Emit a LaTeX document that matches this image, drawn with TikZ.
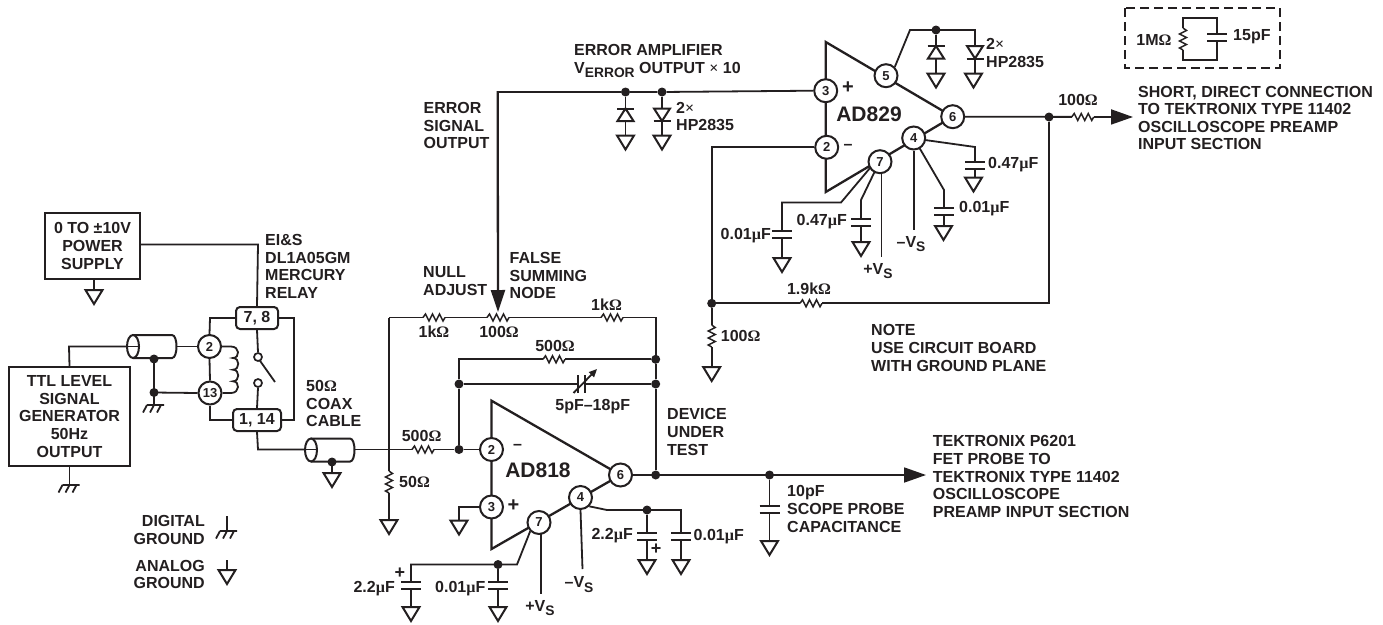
\documentclass[tikz,border=0pt]{standalone}
\usepackage{fontspec}
\setmainfont{Liberation Sans}
\newfontfamily\symf{Liberation Serif}
\usetikzlibrary{arrows.meta}
\definecolor{ink}{HTML}{231F20}
\newcommand\Om{{\symf\bfseries Ω}}
\newcommand\uF{{\symf\bfseries µ}F}
\newcommand\tm{{\symf\bfseries ×}}
\newcommand\lowr[1]{\raisebox{-0.28em}{\fontsize{13.8}{13.8}\selectfont #1}}
\tikzset{
  x=1pt,y=-1pt,
  every path/.style={color=ink},
  wire/.style={draw=ink,line width=1.8pt,line join=miter},
  thickw/.style={draw=ink,line width=2.3pt,line join=miter},
  lbl/.style={inner sep=0pt,text=ink,font=\bfseries\fontsize{16}{17.6}\selectfont},
  ll/.style={lbl,anchor=west,align=left},
  lc/.style={lbl,anchor=center,align=center},
  lr/.style={lbl,anchor=east,align=right},
  pinc/.style={circle,draw=ink,line width=2pt,fill=white,minimum size=23pt,inner sep=0pt,text=ink,font=\bfseries\fontsize{13}{13}\selectfont},
  blk/.style={draw=ink,line width=2pt,fill=white,inner sep=0pt,text=ink,align=center,font=\bfseries\fontsize{16}{17.6}\selectfont},
  rblk/.style={draw=ink,line width=2pt,rounded corners=4pt,fill=white,inner sep=0pt,text=ink,font=\bfseries\fontsize{16}{17.6}\selectfont},
  jdot/.style={circle,fill=ink,inner sep=0pt,minimum size=9pt},
  swdot/.style={circle,draw=ink,line width=1.7pt,fill=white,inner sep=0pt,minimum size=8pt},
  agnd/.pic={\draw[thickw,line width=2pt] (-8.5,0) -- (8.5,0) -- (0,14) -- cycle;},
  earthg/.pic={\draw[wire] (-7,0) -- (10,0) (-7,0) -- (-11,7.5) (0,0) -- (-4,7.5) (7,0) -- (3,7.5);},
  hresist/.pic={\fill[white] (0,-2) rectangle (22,2);
     \draw[wire,line width=1.5pt] (0,0) -- (2.5,-3.5) -- (6,3.5) -- (9.5,-3.5) -- (13,3.5) -- (16.5,-3.5) -- (20,3.5) -- (22,0);},
  vresist/.pic={\fill[white] (-2,0) rectangle (2,22);
     \draw[wire,line width=1.5pt] (0,0) -- (3.5,2.5) -- (-3.5,6) -- (3.5,9.5) -- (-3.5,13) -- (3.5,16.5) -- (-3.5,20) -- (0,22);},
  platesv/.pic={\fill[white] (-3,0) rectangle (3,7);
     \draw[wire,line width=2pt] (-10,0) -- (10,0) (-10,7) -- (10,7);},
  diodeup/.pic={\draw[wire,fill=white,line width=2pt] (-8,12.5) -- (8,12.5) -- (0,0) -- cycle;
     \draw[wire,line width=2pt] (-8.5,0) -- (8.5,0);},
  diodedn/.pic={\draw[wire,fill=white,line width=2pt] (-8,0) -- (8,0) -- (0,12.5) -- cycle;
     \draw[wire,line width=2pt] (-8.5,12.5) -- (8.5,12.5);},
  coaxb/.pic={\draw[wire,line width=2pt,fill=white] (0,-11.5) -- (39,-11.5) .. controls (45,-11.5) and (45,11.5) .. (39,11.5) -- (0,11.5);
     \draw[wire,line width=2pt,fill=white] (0,0) ellipse (6 and 11.5);},
  outarrow/.style={wire,-{Triangle[length=22pt,width=15pt]}}
}
\begin{document}
\begin{tikzpicture}
\useasboundingbox (0,0) rectangle (1383,624);
\fill[white] (0,0) rectangle (1383,624);

% op amp bodies
\draw[thickw] (491.5,400.7) -- (620.5,475) -- (491.5,549) -- cycle;
\draw[thickw] (825.7,42) -- (952.7,116.7) -- (825.7,192) -- cycle;

% ---------- nodes
\node[blk,minimum width=95pt,minimum height=66pt] (psu) at (92.5,246) {0 TO ±10V\\POWER\\SUPPLY};
\node[blk,minimum width=121pt,minimum height=99pt] (ttl) at (69.5,416.5) {TTL LEVEL\\SIGNAL\\GENERATOR\\50Hz\\OUTPUT};
\node[rblk,minimum width=42pt,minimum height=22pt] (r78) at (257,318) {7, 8};
\node[rblk,minimum width=48pt,minimum height=22pt] (r114) at (257,420) {1, 14};
\node[pinc] (k2) at (209.5,346.5) {2};
\node[pinc] (k13) at (210,393) {13};
\node[swdot] (sw1) at (258,357) {};
\node[swdot] (sw2) at (258,383) {};

\node[pinc] (a2) at (491.5,449.5) {2};
\node[pinc] (a3) at (491.5,507) {3};
\node[pinc] (a6) at (620.5,475) {6};
\node[pinc] (a4) at (580.5,497.5) {4};
\node[pinc] (a7) at (539,522.5) {7};

\node[pinc] (b3) at (825.7,90.7) {3};
\node[pinc] (b2) at (826.7,147.3) {2};
\node[pinc] (b5) at (886,75.7) {5};
\node[pinc] (b6) at (952.7,116.7) {6};
\node[pinc] (b4) at (913.7,138) {4};
\node[pinc] (b7) at (880,161.7) {7};

% junctions
\coordinate (jc1) at (154,359);
\coordinate (jc2) at (154,392.5);
\coordinate (jc3) at (332,462);
\node[jdot] (jf1) at (655.7,359.3) {};
\node[jdot] (jf2) at (655.7,384) {};
\node[jdot] (jf3) at (655.7,475) {};
\node[jdot] (jg1) at (459,384) {};
\node[jdot] (jg2) at (459,449.5) {};
\node[jdot] (jo) at (769.5,475) {};
\node[jdot] (jn4) at (647,510) {};
\node[jdot] (jn7) at (498,564.5) {};
\node[jdot] (je1) at (625.5,92) {};
\node[jdot] (je2) at (662,92) {};
\node[jdot] (jt) at (936,30) {};
\node[jdot] (jout) at (1049,117) {};
\node[jdot] (jfb) at (711.7,303.3) {};

% free ends
\coordinate (potTip) at (498,312);
\coordinate (outB) at (1133,117);
\coordinate (outA) at (926,475);

% ---------- relay wiring
\draw[wire] (psu.east |- 0,244.5) -- (258,244.5) -- (r78.north);
\draw[wire] (r78.west) -- (210,318) -- (k2.north);
\draw[wire] (k2.south) -- (k13.north);
\draw[wire] (k13.south) -- (210,420) -- (r114.west);
\draw[wire] (r78.east) -- (294,318) -- (294,420) -- (r114.east);
\draw[wire] (r78.south) -- (sw1.north);
\draw[wire] (sw2.south) -- (r114.north);
\draw[wire] (259.8,360.5) -- (275,382);
\draw[wire] (r114.south) -- (258,449.5) -- (305,449.5);
\draw[wire] (k2.east) -- (231,346.5) .. controls (240,346.5) and (240,358) .. (233,358) .. controls (240,358) and (240,369.7) .. (233,369.7) .. controls (240,369.7) and (240,381.3) .. (233,381.3) .. controls (240,381.3) and (240,393) .. (231,393) -- (k13.east);
\draw[wire] (ttl.north) -- (69,346.5) -- (127,346.5);
\draw[wire] (177,346.5) -- (k2.west);
\draw[wire] (ttl.south) -- (69.5,485);
\draw[wire] (psu.south -| 94,0) -- (94,290);
\pic at (94,290) {agnd};
\pic at (69.5,485) {earthg};
\pic at (133,346.5) {coaxb};
\pic at (311,450) {coaxb};
\draw[wire] (127,346.5) -- (138,346.5);
\draw[wire] (305,449.5) -- (316,449.5);
\draw[wire] (jc1) -- (jc2) -- (154,405);
\draw[wire] (jc2) -- (k13.west);
\pic at (154,405) {earthg};
\node[jdot] (jd1) at (jc1) {};
\node[jdot] (jd2) at (jc2) {};
\node[jdot] (jd3) at (jc3) {};
\draw[wire] (jc3) -- (332,473);
\pic at (332,473) {agnd};
\draw[wire] (355,449.5) -- (jg2) -- (a2.west);

% ---------- AD818 network
\coordinate (nl) at (389,317.5);
\draw[wire] (nl) -- (655.7,317.5) -- (jf1) -- (jf2) -- (jf3);
\draw[wire] (nl) -- (389,520);
\pic at (389,520) {agnd};
\pic at (423,317.5) {hresist};
\pic at (487,317.5) {hresist};
\pic at (601,317.5) {hresist};
\pic at (389,471) {vresist};
\pic at (412,449.5) {hresist};
\draw[wire] (jg2) -- (jg1) -- (459,359.3) -- (jf1);
\draw[wire] (jg1) -- (jf2);
\pic at (543,359.3) {hresist};
% variable capacitor
\fill[white] (579,381) rectangle (584.5,387);
\draw[wire,line width=2pt] (578.3,375) -- (578.3,393) (585,375) -- (585,393);
\draw[wire,-{Triangle[length=8pt,width=7pt]}] (573.5,393) -- (597,369);
\draw[outarrow] (a6.east) -- (outA);
\draw[wire] (jo) -- (769.5,541);
\pic at (769.5,506) {platesv};
\pic at (769.5,541) {agnd};
\draw[wire] (a3.west) -- (459,507) -- (459,520.5);
\pic at (459,520.5) {agnd};
\draw[wire] (a4.south east) -- (607,510) -- (681,510) -- (681,560);
\draw[wire] (jn4) -- (647,560);
\pic at (647,533) {platesv};
\pic at (681,533) {platesv};
\pic at (647,560) {agnd};
\pic at (681,560) {agnd};
\draw[wire] (a4.south) -- (582.5,569);
\draw[wire] (541,534) -- (541,594);
\draw[wire] (a7.south west) -- (517,564.5) -- (411,564.5) -- (411,607);
\draw[wire] (jn7) -- (498,607);
\pic at (411,582) {platesv};
\pic at (498,582) {platesv};
\pic at (411,607) {agnd};
\pic at (498,607) {agnd};

% ---------- AD829 network
\draw[wire] (b3.west) -- (je2) -- (je1) -- (497.7,92);
\draw[thickw,-{Triangle[length=22pt,width=14pt]}] (497.7,91) -- (potTip);
\draw[wire] (je1) -- (625.5,135);
\draw[wire] (je2) -- (662,135);
\pic at (625.5,108.5) {diodeup};
\pic at (662,108.5) {diodedn};
\pic at (625.5,135.5) {agnd};
\pic at (662,135.5) {agnd};
\draw[wire] (b5.north east) -- (910,30) -- (975,30) -- (975,73);
\draw[wire] (jt) -- (936,73);
\pic at (936,46) {diodeup};
\pic at (975,46) {diodedn};
\pic at (936,73.5) {agnd};
\pic at (973.5,73.5) {agnd};
\draw[outarrow] (b6.east) -- (outB);
\pic at (1071.7,117) {hresist};
\draw[wire] (jout) -- (1049,303.3) -- (jfb);
\pic at (800,303.3) {hresist};
\draw[wire] (b2.west) -- (711.7,147.3) -- (jfb) -- (711.7,367);
\pic at (711.7,325) {vresist};
\pic at (711.7,367) {agnd};
% pin 4
\draw[wire] (925,140) -- (975,147) -- (975,177);
\pic at (975,162) {platesv};
\pic at (973.5,177.5) {agnd};
\draw[wire] (919.5,148) -- (944,190) -- (944,226);
\pic at (944,208) {platesv};
\pic at (943.5,226) {agnd};
\draw[wire] (b4.south) -- (913.7,230);
% pin 7
\draw[wire] (881.5,173.5) -- (881.5,257);
\draw[wire] (874.5,172) -- (861,200) -- (861,242);
\pic at (861,219) {platesv};
\pic at (861,242) {agnd};
\draw[wire] (870,168) -- (841,202.5) -- (782,202.5) -- (782,258);
\pic at (782,231) {platesv};
\pic at (782,258) {agnd};

% ---------- scope input inset
\draw[draw=ink,line width=1.8pt,dash pattern=on 9pt off 5pt] (1125,8) rectangle (1280,68);
\draw[wire] (1183,28) -- (1183,18) -- (1217,18) -- (1217,60) -- (1183,60) -- (1183,28);
\pic at (1183,28) {vresist};
\pic at (1217,34) {platesv};

% ---------- legend symbols
\draw[wire] (227,516) -- (227,531);
\pic at (227,531) {earthg};
\draw[wire] (227,560) -- (227,570);
\pic at (227,570) {agnd};

% ---------- labels
\node[ll] (t1) at (265,266.5) {EI\&S\\DL1A05GM\\MERCURY\\RELAY};
\node[ll] (t2) at (306,403.5) {50\Om\\COAX\\CABLE};
\node[ll] (t3) at (423,281) {NULL\\ADJUST};
\node[ll] (t4) at (509.5,275.5) {FALSE\\SUMMING\\NODE};
\node[ll] (t5) at (423.5,125.5) {ERROR\\SIGNAL\\OUTPUT};
\node[ll,anchor=base west] (t6) at (574,55.5) {ERROR AMPLIFIER};
\node[ll,anchor=base west] (t7) at (574,73) {V\lowr{ERROR} OUTPUT \tm{} 10};
\node[ll] (t8) at (676,116.5) {2\tm\\HP2835};
\node[ll] (t9) at (986,53) {2\tm\\HP2835};
\node[lc] (t10) at (1078,100) {100\Om};
\node[ll] (t11) at (1138,118) {SHORT, DIRECT CONNECTION\\TO TEKTRONIX TYPE 11402\\OSCILLOSCOPE PREAMP\\INPUT SECTION};
\node[lc] (t12) at (1154,39.5) {1M\Om};
\node[ll] (t13) at (1233,37) {15pF};
\node[ll] (t14) at (871,348) {NOTE\\USE CIRCUIT BOARD\\WITH GROUND PLANE};
\node[ll] (t15) at (932.7,476.5) {TEKTRONIX P6201\\FET PROBE TO\\TEKTRONIX TYPE 11402\\OSCILLOSCOPE\\PREAMP INPUT SECTION};
\node[ll] (t16) at (787,509) {10pF\\SCOPE PROBE\\CAPACITANCE};
\node[ll] (t17) at (667,432) {DEVICE\\UNDER\\TEST};
\node[lc] (t18) at (434,332) {1k\Om};
\node[lc] (t19) at (499,332) {100\Om};
\node[lc] (t20) at (606.5,305) {1k\Om};
\node[lc] (t21) at (555,346) {500\Om};
\node[lc] (t22) at (421.6,435.7) {500\Om};
\node[ll] (t23) at (399,482) {50\Om};
\node[lc] (t24) at (592.7,406.7) {5pF–18pF};
\node[ll] (t25) at (720.7,336) {100\Om};
\node[lc] (t26) at (809,289) {1.9k\Om};
\node[lbl,font=\bfseries\fontsize{21}{21}\selectfont] (t27) at (538,470.5) {AD818};
\node[lbl,font=\bfseries\fontsize{21}{21}\selectfont] (t28) at (869,114) {AD829};
\node[lc] (t29) at (517.5,447) {–};
\node[lc,font=\bfseries\fontsize{20}{20}\selectfont] (t30) at (513.5,506) {+};
\node[lc,font=\bfseries\fontsize{20}{20}\selectfont] (t31) at (848,88) {+};
\node[lc] (t32) at (848,147) {–};
\node[lr] (t33) at (633,536) {2.2\uF};
\node[ll] (t34) at (693.5,537) {0.01\uF};
\node[lc,font=\bfseries\fontsize{18}{18}\selectfont] (t35) at (656,549) {+};
\node[lc,font=\bfseries\fontsize{18}{18}\selectfont] (t36) at (400,573) {+};
\node[lr] (t37) at (395,588.5) {2.2\uF};
\node[lr] (t38) at (485.5,588.5) {0.01\uF};
\node[lc] (t39) at (579,584.5) {–V\lowr{S}};
\node[lc] (t40) at (540,608) {+V\lowr{S}};
\node[lc] (t41) at (911,244) {–V\lowr{S}};
\node[lc] (t42) at (878,271) {+V\lowr{S}};
\node[ll] (t43) at (988,165) {0.47\uF};
\node[ll] (t44) at (959,209) {0.01\uF};
\node[lr] (t45) at (847,222) {0.47\uF};
\node[lr] (t46) at (771,236) {0.01\uF};
\node[lr] (t47) at (205,530) {DIGITAL\\GROUND};
\node[lr] (t48) at (205,574.5) {ANALOG\\GROUND};
\end{tikzpicture}
\end{document}
